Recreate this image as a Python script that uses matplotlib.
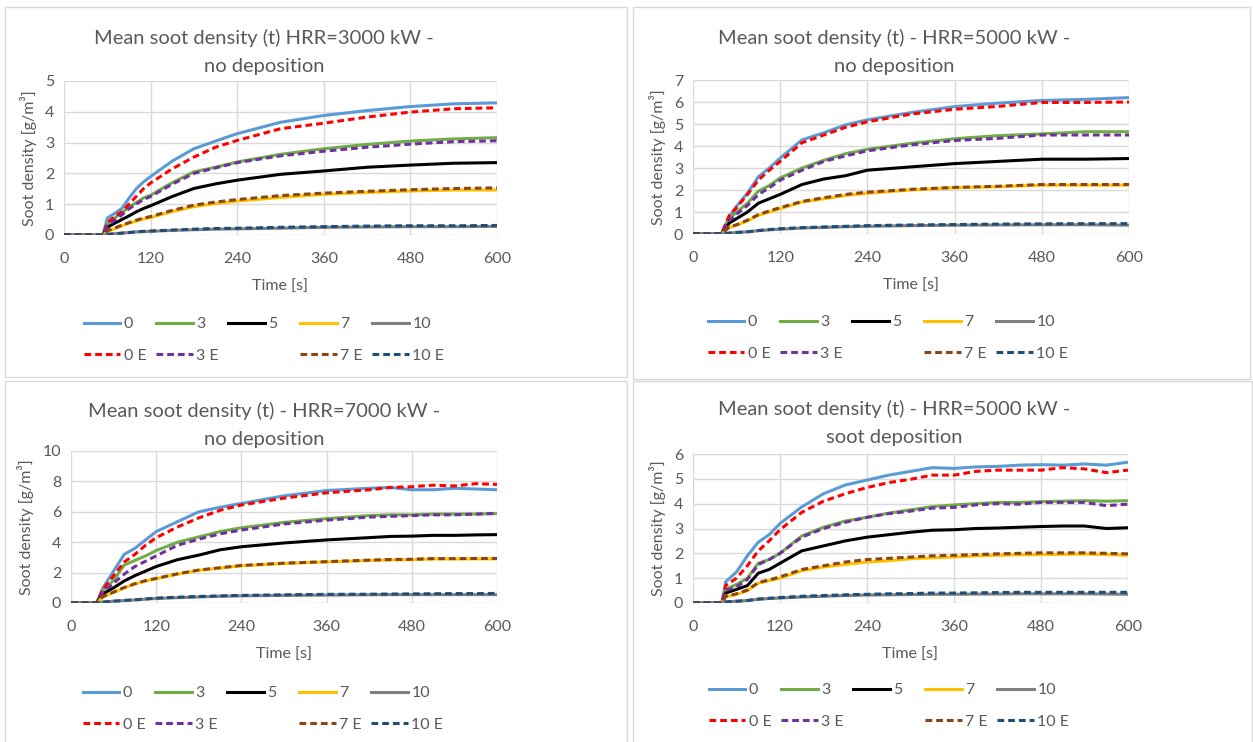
import matplotlib.pyplot as plt
from matplotlib.lines import Line2D
from matplotlib.patches import Rectangle

plt.rcParams['font.family'] = ['Lato', 'DejaVu Sans']

W, H = 1253, 742

names = ["0", "3", "5", "7", "10", "0 E", "3 E", "7 E", "10 E"]
colors = ["#5B9BD5", "#70AD47", "#000000", "#FFC000", "#808080",
          "#FF0000", "#7030A0", "#8B4513", "#1F4E79"]
dashed = [False] * 5 + [True] * 4

titles = ["Mean soot density (t) HRR=3000 kW -\nno deposition",
          "Mean soot density (t) - HRR=5000 kW -\nno deposition",
          "Mean soot density (t) - HRR=7000 kW -\nno deposition",
          "Mean soot density (t) - HRR=5000 kW -\nsoot deposition"]
ymax = [5, 7, 10, 6]
ystep = [1, 1, 2, 1]

# panel 1: HRR 3000 kW, no deposition
t1 = [0, 54, 60, 70, 80, 90, 100, 110, 120, 150, 180, 210, 240, 300, 360, 420, 480, 540, 600]
p1 = [
    [0, 0, 0.55, 0.7, 0.86, 1.19, 1.5, 1.72, 1.9, 2.4, 2.8, 3.05, 3.29, 3.66, 3.88, 4.04, 4.17, 4.26, 4.29],
    [0, 0, 0.35, 0.55, 0.72, 0.9, 1.05, 1.2, 1.29, 1.7, 2.05, 2.2, 2.37, 2.62, 2.8, 2.94, 3.05, 3.12, 3.16],
    [0, 0, 0.25, 0.38, 0.5, 0.62, 0.75, 0.86, 0.95, 1.25, 1.51, 1.66, 1.78, 1.97, 2.08, 2.2, 2.27, 2.33, 2.35],
    [0, 0, 0.12, 0.2, 0.3, 0.38, 0.45, 0.52, 0.57, 0.76, 0.92, 1.02, 1.1, 1.22, 1.32, 1.38, 1.43, 1.46, 1.46],
    [0, 0, 0.02, 0.04, 0.06, 0.08, 0.1, 0.11, 0.12, 0.15, 0.17, 0.19, 0.2, 0.22, 0.25, 0.26, 0.27, 0.27, 0.28],
    [0, 0, 0.4, 0.6, 0.75, 1.0, 1.25, 1.5, 1.69, 2.15, 2.53, 2.85, 3.07, 3.45, 3.63, 3.83, 3.99, 4.1, 4.13],
    [0, 0, 0.3, 0.48, 0.65, 0.85, 1.0, 1.15, 1.25, 1.65, 2.0, 2.18, 2.35, 2.57, 2.72, 2.85, 2.95, 3.03, 3.06],
    [0, 0, 0.14, 0.22, 0.32, 0.4, 0.48, 0.55, 0.6, 0.8, 0.97, 1.07, 1.15, 1.28, 1.36, 1.42, 1.47, 1.51, 1.53],
    [0, 0, 0.02, 0.04, 0.06, 0.08, 0.1, 0.12, 0.13, 0.16, 0.19, 0.21, 0.22, 0.25, 0.27, 0.29, 0.3, 0.3, 0.31],
]

# panel 2: HRR 5000 kW, no deposition
t2 = [0, 39, 50, 60, 75, 90, 105, 120, 150, 180, 210, 240, 300, 360, 420, 480, 540, 600]
p2 = [
    [0, 0, 0.8, 1.26, 1.86, 2.6, 3.0, 3.45, 4.28, 4.6, 4.96, 5.19, 5.52, 5.79, 5.95, 6.07, 6.12, 6.2],
    [0, 0, 0.7, 1.0, 1.4, 1.95, 2.2, 2.55, 3.0, 3.35, 3.65, 3.85, 4.12, 4.33, 4.47, 4.55, 4.65, 4.65],
    [0, 0, 0.5, 0.7, 1.0, 1.4, 1.6, 1.8, 2.25, 2.5, 2.65, 2.9, 3.05, 3.2, 3.3, 3.4, 3.4, 3.43],
    [0, 0, 0.3, 0.4, 0.6, 0.85, 1.0, 1.15, 1.45, 1.6, 1.75, 1.85, 2.0, 2.1, 2.15, 2.22, 2.22, 2.22],
    [0, 0, 0.04, 0.07, 0.1, 0.15, 0.19, 0.22, 0.27, 0.3, 0.33, 0.35, 0.38, 0.4, 0.41, 0.42, 0.42, 0.4],
    [0, 0, 0.85, 1.2, 1.8, 2.45, 2.9, 3.3, 4.15, 4.5, 4.85, 5.1, 5.45, 5.67, 5.8, 5.98, 5.98, 6.0],
    [0, 0, 0.6, 0.9, 1.3, 1.8, 2.1, 2.45, 2.9, 3.3, 3.55, 3.78, 4.05, 4.25, 4.35, 4.5, 4.5, 4.5],
    [0, 0, 0.32, 0.42, 0.63, 0.88, 1.05, 1.2, 1.48, 1.65, 1.8, 1.9, 2.03, 2.12, 2.17, 2.25, 2.25, 2.25],
    [0, 0, 0.04, 0.07, 0.1, 0.16, 0.2, 0.24, 0.29, 0.32, 0.35, 0.38, 0.41, 0.43, 0.45, 0.46, 0.47, 0.47],
]

# panel 3: HRR 7000 kW, no deposition
t3 = [0, 36, 45, 60, 75, 90, 105, 120, 150, 180, 210, 240, 300, 360, 420, 450, 480, 510, 540, 570, 600]
p3 = [
    [0, 0, 1.0, 2.1, 3.2, 3.6, 4.15, 4.7, 5.35, 6.0, 6.3, 6.55, 7.05, 7.4, 7.55, 7.6, 7.45, 7.45, 7.55, 7.5, 7.45],
    [0, 0, 0.8, 1.5, 2.5, 2.8, 3.1, 3.45, 4.0, 4.35, 4.7, 4.95, 5.3, 5.55, 5.75, 5.8, 5.8, 5.85, 5.85, 5.85, 5.88],
    [0, 0, 0.6, 1.0, 1.45, 1.8, 2.1, 2.4, 2.85, 3.15, 3.5, 3.7, 3.95, 4.15, 4.3, 4.38, 4.4, 4.45, 4.45, 4.48, 4.5],
    [0, 0, 0.4, 0.7, 1.0, 1.25, 1.45, 1.6, 1.9, 2.15, 2.3, 2.45, 2.6, 2.7, 2.8, 2.83, 2.85, 2.9, 2.9, 2.9, 2.9],
    [0, 0, 0.06, 0.12, 0.16, 0.2, 0.25, 0.3, 0.35, 0.4, 0.44, 0.47, 0.5, 0.52, 0.54, 0.55, 0.55, 0.55, 0.55, 0.55, 0.55],
    [0, 0, 0.9, 1.8, 2.7, 3.2, 3.8, 4.3, 5.0, 5.6, 6.1, 6.45, 6.9, 7.25, 7.45, 7.6, 7.65, 7.75, 7.7, 7.85, 7.8],
    [0, 0, 0.7, 1.3, 1.9, 2.4, 2.75, 3.1, 3.8, 4.2, 4.55, 4.8, 5.2, 5.45, 5.65, 5.7, 5.75, 5.8, 5.8, 5.85, 5.9],
    [0, 0, 0.42, 0.72, 1.02, 1.27, 1.47, 1.62, 1.92, 2.17, 2.32, 2.47, 2.62, 2.72, 2.82, 2.86, 2.88, 2.92, 2.92, 2.93, 2.93],
    [0, 0, 0.06, 0.12, 0.17, 0.21, 0.27, 0.32, 0.38, 0.43, 0.47, 0.5, 0.54, 0.57, 0.58, 0.59, 0.6, 0.61, 0.62, 0.62, 0.63],
]

# panel 4: HRR 5000 kW, soot deposition
t4 = [0, 40, 45, 60, 75, 90, 105, 120, 150, 180, 210, 240, 270, 300, 330, 360, 390, 420, 450, 480, 510, 540, 570, 600]
p4 = [
    [0, 0, 0.85, 1.25, 1.9, 2.45, 2.75, 3.2, 3.87, 4.4, 4.75, 4.95, 5.15, 5.3, 5.45, 5.42, 5.48, 5.5, 5.55, 5.57, 5.55, 5.6, 5.55, 5.67],
    [0, 0, 0.55, 0.75, 1.0, 1.6, 1.75, 2.0, 2.7, 3.05, 3.3, 3.45, 3.62, 3.75, 3.88, 3.95, 4.0, 4.05, 4.05, 4.08, 4.1, 4.12, 4.1, 4.12],
    [0, 0, 0.4, 0.55, 0.7, 1.2, 1.35, 1.6, 2.1, 2.3, 2.5, 2.65, 2.75, 2.85, 2.93, 2.95, 3.0, 3.02, 3.05, 3.08, 3.1, 3.1, 3.0, 3.03],
    [0, 0, 0.25, 0.35, 0.5, 0.8, 0.9, 1.0, 1.3, 1.45, 1.55, 1.65, 1.7, 1.78, 1.82, 1.85, 1.9, 1.92, 1.94, 1.95, 1.96, 1.97, 1.95, 1.92],
    [0, 0, 0.04, 0.07, 0.1, 0.15, 0.18, 0.2, 0.24, 0.27, 0.3, 0.32, 0.33, 0.34, 0.35, 0.35, 0.36, 0.36, 0.37, 0.37, 0.37, 0.37, 0.36, 0.35],
    [0, 0, 0.7, 1.0, 1.5, 2.1, 2.5, 2.95, 3.65, 4.1, 4.4, 4.65, 4.85, 4.98, 5.15, 5.15, 5.3, 5.35, 5.35, 5.35, 5.45, 5.4, 5.25, 5.35],
    [0, 0, 0.5, 0.65, 0.95, 1.55, 1.75, 2.0, 2.65, 3.0, 3.25, 3.45, 3.6, 3.7, 3.82, 3.85, 3.95, 4.0, 3.98, 4.05, 4.05, 4.05, 3.92, 3.98],
    [0, 0, 0.27, 0.37, 0.52, 0.82, 0.93, 1.05, 1.35, 1.5, 1.65, 1.75, 1.8, 1.85, 1.9, 1.92, 1.95, 1.98, 2.0, 2.02, 2.02, 2.02, 2.0, 1.98],
    [0, 0, 0.04, 0.07, 0.1, 0.16, 0.19, 0.22, 0.27, 0.3, 0.33, 0.35, 0.37, 0.38, 0.4, 0.4, 0.41, 0.42, 0.43, 0.43, 0.43, 0.43, 0.43, 0.43],
]

times = [t1, t2, t3, t4]
panels = [p1, p2, p3, p4]

# layout in pixels: plot area (l, t, r, b), panel box, title centre, legend centre
axbox = [(64, 81, 497, 235), (693, 80, 1129, 234), (71, 451, 497, 603), (693, 454, 1128, 603)]
frames = [(5, 7, 627, 377), (633, 7, 1250, 379), (5, 381, 627, 745), (633, 381, 1252, 745)]
title_xy = [(264, 52), (894, 52), (264, 425), (894, 423)]
leg_xy = [(264, 340), (888, 338), (263, 709), (889, 706)]

grey = "#595959"
fig = plt.figure(figsize=(W / 100, H / 100), dpi=100)

for k in range(4):
    x0, y0, x1, y1 = frames[k]
    fig.patches.append(Rectangle((x0 / W, 1 - y1 / H), (x1 - x0) / W, (y1 - y0) / H,
                                 transform=fig.transFigure, fill=False,
                                 edgecolor="#D9D9D9", lw=1))
    l, t, r, b = axbox[k]
    ax = fig.add_axes([l / W, 1 - b / H, (r - l) / W, (b - t) / H])
    for i in range(9):
        ls = (0, (2.2, 1.3)) if dashed[i] else "-"
        ax.plot(times[k], panels[k][i], color=colors[i], lw=2.2, ls=ls, label=names[i])
    ax.set_xlim(0, 600)
    ax.set_ylim(0, ymax[k])
    ax.set_xticks(range(0, 601, 120))
    ax.set_yticks(range(0, ymax[k] + 1, ystep[k]))
    ax.grid(color="#D9D9D9", lw=1)
    ax.set_axisbelow(True)
    for s in ax.spines.values():
        s.set_visible(False)
    ax.tick_params(length=0, labelsize=11.5, colors=grey)
    ax.tick_params(axis="x", pad=12)
    ax.tick_params(axis="y", pad=7)
    ax.set_xlabel("Time [s]", fontsize=11.5, color=grey, labelpad=10)
    ax.set_ylabel("Soot density [g/m³]", fontsize=11.5, color=grey, labelpad=6)
    tx, ty = title_xy[k]
    fig.text(tx / W, 1 - ty / H, titles[k], ha="center", va="center",
             fontsize=14.5, color=grey, linespacing=1.8)

    hs, ls_ = ax.get_legend_handles_labels()
    blank = Line2D([], [], color="none")
    order_h = [hs[0], hs[5], hs[1], hs[6], hs[2], blank, hs[3], hs[7], hs[4], hs[8]]
    order_l = ["0", "0 E", "3", "3 E", "5", "5 E", "7", "7 E", "10", "10 E"]
    lx, ly = leg_xy[k]
    leg = fig.legend(order_h, order_l, ncol=5, loc="center",
                     bbox_to_anchor=(lx / W, 1 - ly / H), frameon=False,
                     fontsize=11.5, handlelength=2.3, handletextpad=0.2,
                     columnspacing=0.6, labelspacing=1.1, borderpad=0)
    for j, txt in enumerate(leg.get_texts()):
        txt.set_color("none" if j == 5 else grey)

fig.savefig("out.png", dpi=100)
